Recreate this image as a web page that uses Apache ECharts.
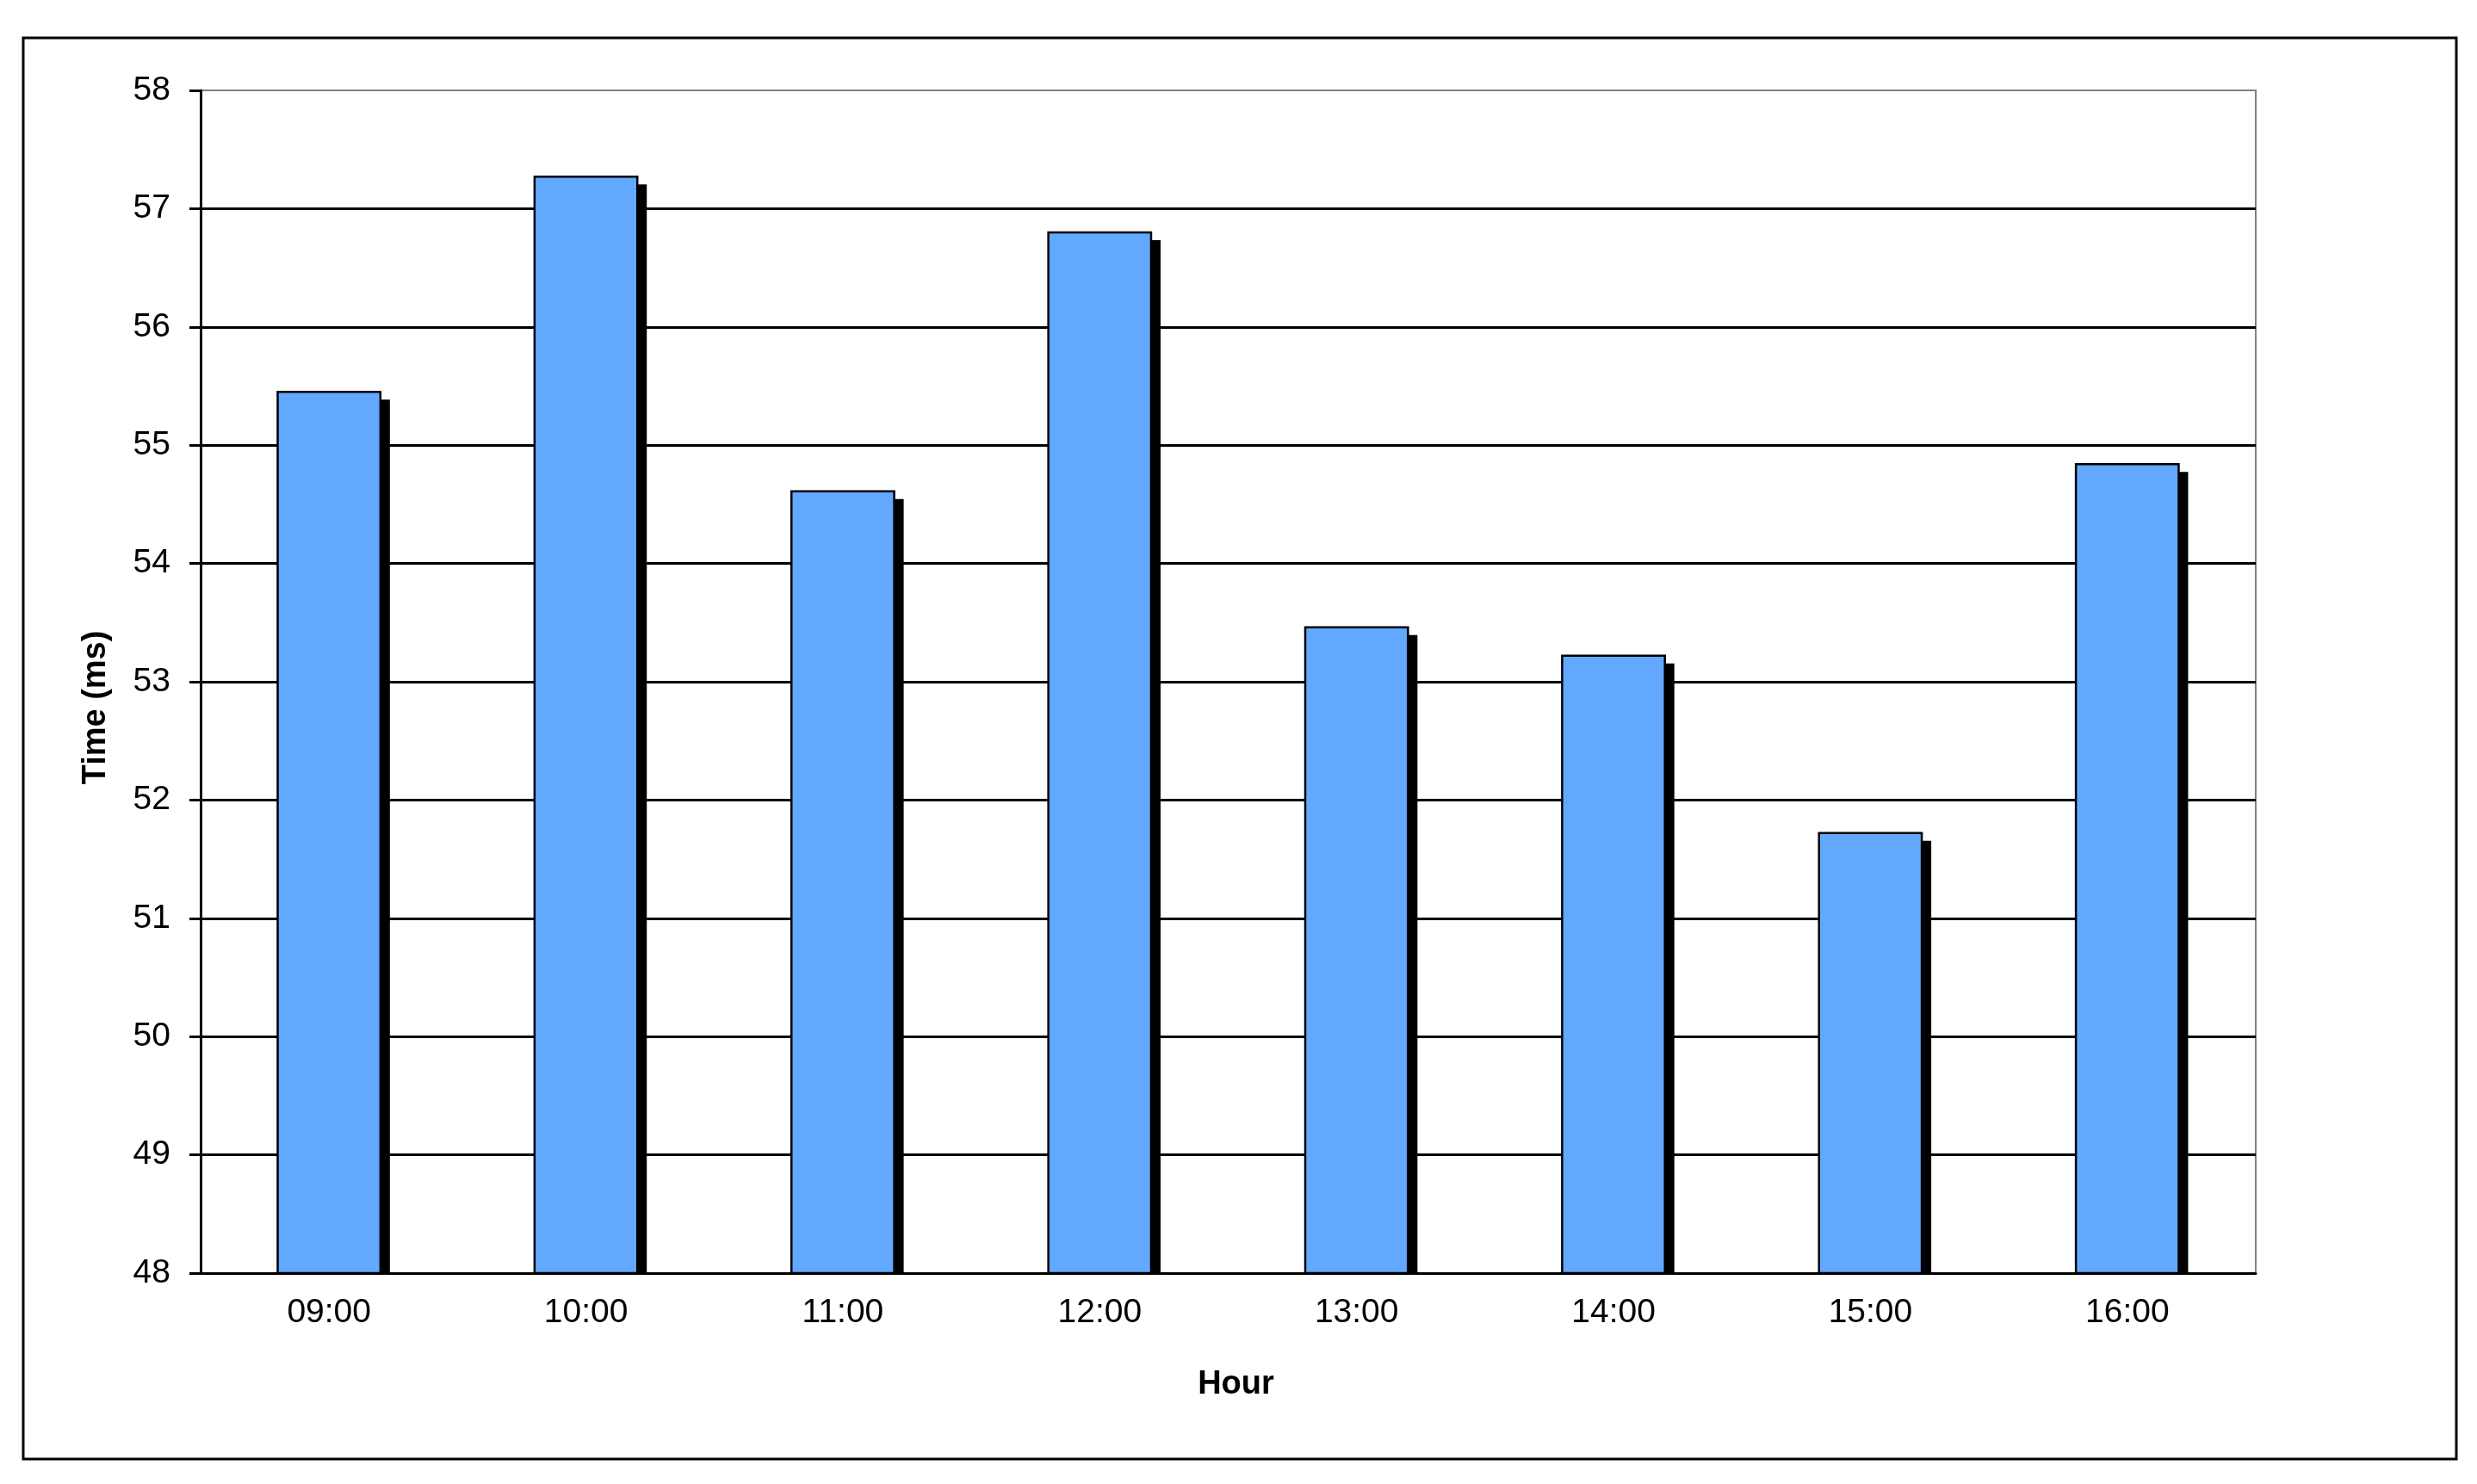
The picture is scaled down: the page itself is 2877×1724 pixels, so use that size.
<!DOCTYPE html>
<html>
<head>
<meta charset="utf-8">
<title>Time by hour</title>
<script src="https://cdn.jsdelivr.net/npm/echarts@6/dist/echarts.min.js"></script>
<style>
    html, body { margin: 0; padding: 0; background: #fff; }
    #chart { width: 2877px; height: 1724px; }
</style>
</head>
<body>
<div id="chart"></div>
<script>
const HOURS = ["09:00", "10:00", "11:00", "12:00", "13:00", "14:00", "15:00", "16:00"];
const TIMES = [55.45, 57.27, 54.61, 56.80, 53.46, 53.22, 51.72, 54.84];
const Y_MIN = 48;
const Y_MAX = 58;
const Y_STEP = 1;

const FONT = "Liberation Sans, Arial, sans-serif";
const BAR_COLOR = "#63a8ff";
const SHADOW_DX = 11;
const SHADOW_DY = 9;

const chart = echarts.init(document.getElementById("chart"));

// bar with a hard drop shadow, clipped at the axis like the old spreadsheet look
function renderBar(params, api) {
    const top = api.coord([api.value(0), api.value(1)]);
    const base = api.coord([api.value(0), Y_MIN]);
    const w = api.size([1, 0])[0] * 0.4;
    const x = top[0] - w / 2;
    const h = base[1] - top[1];
    return {
        type: "group",
        children: [
            {
                type: "rect",
                shape: { x: x + SHADOW_DX, y: top[1] + SHADOW_DY, width: w, height: Math.max(h - SHADOW_DY, 0) },
                style: { fill: "#000" },
            },
            {
                type: "rect",
                shape: { x: x, y: top[1], width: w, height: h },
                style: { fill: BAR_COLOR, stroke: "#000", lineWidth: 2.5 },
            },
        ],
    };
}

chart.setOption({
    backgroundColor: "#fff",
    animation: false,
    textStyle: { fontFamily: FONT, color: "#000" },
    graphic: [
        {
            type: "rect",
            silent: true,
            shape: { x: 27, y: 44, width: 2826, height: 1651 },
            style: { fill: "none", stroke: "#000", lineWidth: 3 },
        },
    ],
    grid: {
        left: 233,
        right: 257,
        top: 105,
        bottom: 245,
        show: true,
        backgroundColor: "transparent",
        borderColor: "#808080",
        borderWidth: 2,
    },
    xAxis: {
        type: "category",
        data: HOURS,
        name: "Hour",
        nameLocation: "middle",
        nameGap: 111,
        nameTextStyle: {
            fontFamily: FONT,
            fontSize: 38,
            fontWeight: "bold",
            color: "#000",
            padding: [0, 0, 0, 18],
        },
        axisLine: { lineStyle: { color: "#000", width: 3 } },
        axisTick: { length: 11, lineStyle: { color: "#000", width: 3 } },
        axisLabel: { fontFamily: FONT, fontSize: 39, color: "#000", margin: 27 },
        splitLine: { show: false },
    },
    yAxis: {
        type: "value",
        min: Y_MIN,
        max: Y_MAX,
        interval: Y_STEP,
        name: "Time (ms)",
        nameLocation: "middle",
        nameGap: 102,
        nameTextStyle: {
            fontFamily: FONT,
            fontSize: 38,
            fontWeight: "bold",
            color: "#000",
            padding: [0, 60, 0, 0],
        },
        axisLine: { show: true, lineStyle: { color: "#000", width: 3 } },
        axisTick: { show: true, length: 13, lineStyle: { color: "#000", width: 3 } },
        axisLabel: { fontFamily: FONT, fontSize: 39, color: "#000", margin: 35 },
        splitLine: { show: true, showMaxLine: false, lineStyle: { color: "#000", width: 3 } },
    },
    series: [
        {
            type: "custom",
            renderItem: renderBar,
            encode: { x: 0, y: 1 },
            data: HOURS.map((h, i) => [i, TIMES[i]]),
            z: 3,
        },
    ],
});
</script>
</body>
</html>
